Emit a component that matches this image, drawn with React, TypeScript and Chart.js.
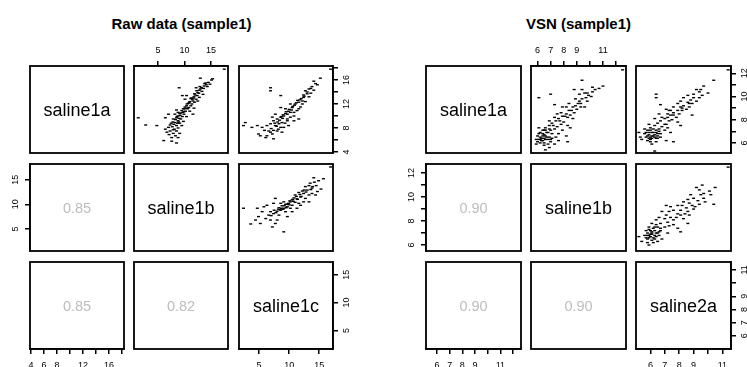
import React, { useEffect, useRef } from 'react';
import { Chart, registerables } from 'chart.js';

Chart.register(...registerables);

// ---------------- data ----------------
const rawVars = ['saline1a', 'saline1b', 'saline1c'];
const vsnVars = ['saline1a', 'saline1b', 'saline2a'];
// lower panels: (row2,col1), (row3,col1), (row3,col2)
const rawCors = [0.85, 0.85, 0.82];
const vsnCors = [0.9, 0.9, 0.9];

const rawRanges = [[3.83, 18.33], [0.5, 18.2], [1.65, 17.3]];
const vsnRanges = [[5.13, 12.63], [5.5, 12.76], [5.0, 11.6]];

const rawTicks = [[4, 6, 8, 10, 12, 14, 16, 18], [5, 10, 15], [5, 10, 15]];
const rawLabelsH = [['4', '6', '8', '', '12', '', '16', ''], ['5', '10', '15'], ['5', '10', '15']];
const rawLabelsV = [['4', '', '8', '', '12', '', '16', ''], ['5', '10', '15'], ['5', '10', '15']];
const vsnTicks = [[6, 7, 8, 9, 10, 11, 12], [6, 7, 8, 9, 10, 11, 12], [6, 7, 8, 9, 10, 11]];
const vsnLabelsH = [['6', '7', '8', '9', '', '11', ''], ['6', '7', '8', '9', '', '11', ''], ['6', '7', '8', '9', '', '11']];
const vsnLabelsV = [['6', '', '8', '', '10', '', '12'], ['6', '', '8', '', '10', '', '12'], ['6', '7', '8', '9', '', '11']];

// Raw: x = saline1b, y = saline1a
const rawS1bS1a: number[][] = [
  [17.5,17.8],[13.0,16.3],[15.1,16.0],[14.5,15.6],[14.8,15.3],[14.1,15.2],[13.7,15.0],[14.3,14.9],[13.2,14.7],[12.8,14.3],
  [12.3,14.2],[13.3,14.1],[12.5,13.9],[11.9,13.7],[12.4,13.4],[13.5,13.6],[11.8,13.2],[12.8,13.1],[11.3,13.0],[12.2,12.8],
  [11.6,12.5],[12.5,12.5],[11.0,12.4],[11.9,12.3],[10.7,12.1],[11.4,12.0],[10.4,11.7],[11.2,11.7],[10.1,11.5],[10.8,11.4],
  [11.8,11.3],[9.8,11.2],[10.6,11.2],[9.5,10.9],[10.2,10.8],[11.0,10.8],[9.1,10.4],[9.9,10.3],[11.6,10.3],[8.8,10.0],
  [9.6,9.9],[10.4,9.9],[8.5,9.7],[9.3,9.5],[7.9,9.5],[8.8,9.2],[9.8,9.1],[8.2,8.9],[9.1,8.8],[7.5,8.8],
  [8.5,8.4],[9.5,8.4],[7.7,8.2],[7.0,8.1],[8.8,8.0],[8.1,7.8],[6.4,7.8],[7.3,7.5],[8.5,7.5],[6.7,7.3],
  [7.9,7.1],[9.1,7.1],[7.1,6.9],[8.3,6.7],[7.6,6.4],[8.8,6.4],[6.1,5.9],[7.6,5.8],[8.5,5.5],[1.3,9.7],
  [2.7,8.5],[4.8,8.4],[9.0,14.7],[9.6,13.4],[8.5,11.0],[8.8,10.6],[10.1,12.8],[6.4,9.7],[7.0,10.3],[8.2,10.3],
  [10.4,13.4],[13.8,15.4],[15.3,16.2],[12.2,14.7],[12.0,13.5],[11.5,12.8],[10.9,12.2],[10.0,11.2],[9.3,10.5],[13.0,14.5],
  [12.7,13.8],[14.0,15.5],[9.0,9.6],[8.0,8.6],[11.2,12.9],[10.5,12.0],[10.3,11.3],[9.7,10.6],[9.2,10.1],[8.6,9.9],
  [8.3,9.4],[7.8,9.0],[8.9,9.0],[9.9,10.7],[12.9,14.9],[13.6,14.6],[11.7,13.0],[7.3,8.5],[7.9,7.7],[8.7,8.8],
];
// Raw: x = saline1c, y = saline1a
const rawS1cS1a: number[][] = [
  [16.9,17.8],[6.9,14.7],[6.9,14.2],[8.6,13.4],[14.1,15.8],[15.2,16.3],[14.7,15.2],[13.8,14.9],[13.3,14.5],[14.1,14.3],
  [12.7,14.2],[13.0,13.7],[12.4,13.1],[12.2,12.5],[11.6,12.3],[11.0,12.0],[11.9,11.5],[10.5,11.4],[11.3,10.9],[10.2,10.6],
  [9.7,10.3],[9.1,10.0],[10.8,10.0],[8.6,9.8],[8.0,9.5],[9.7,9.5],[7.4,9.2],[8.8,8.9],[8.3,8.7],[6.9,8.7],
  [7.7,8.4],[6.3,8.4],[9.1,8.1],[5.5,8.1],[4.7,8.4],[2.4,8.4],[2.7,8.9],[3.8,8.1],[8.0,7.5],[6.9,7.3],
  [7.2,7.0],[6.3,6.7],[5.2,6.7],[4.9,7.0],[7.4,6.2],[6.1,6.4],[6.6,7.5],[8.8,7.3],[9.7,9.2],[10.2,9.8],
  [10.8,10.6],[11.6,11.2],[12.2,12.0],[12.7,12.4],[13.3,13.2],[13.6,13.8],[12.4,13.5],[10.2,12.0],[9.4,11.2],[8.6,11.4],
  [7.7,10.3],[7.2,9.8],[9.9,8.4],[10.8,9.2],[11.6,9.5],[12.0,12.9],[11.4,12.6],[10.9,11.8],[10.4,11.0],[9.9,10.8],
  [9.4,10.4],[8.9,9.6],[8.4,9.3],[13.0,14.0],[14.4,15.4],[7.9,8.3],[7.0,7.9],[9.3,8.8],[8.2,7.8],[5.9,7.6],
  [12.5,13.3],[11.8,12.7],[11.2,12.2],[10.6,11.6],[10.0,11.1],[9.5,10.7],[9.0,10.2],[8.7,9.9],[8.1,9.0],[7.6,8.8],
  [13.6,14.6],[7.4,7.6],[8.6,8.1],
];
// Raw: x = saline1c, y = saline1b
const rawS1cS1b: number[][] = [
  [16.9,17.6],[14.1,15.4],[15.7,15.2],[14.9,14.8],[14.2,14.5],[13.5,14.3],[13.3,13.8],[14.5,13.8],[12.7,13.6],[13.8,13.3],
  [13.0,12.9],[12.2,12.7],[15.3,13.1],[12.4,12.2],[11.6,12.4],[11.0,11.9],[11.9,11.5],[10.8,11.3],[11.3,11.1],[12.7,11.2],
  [10.5,10.9],[10.2,10.5],[11.0,10.4],[9.9,10.2],[9.4,10.0],[10.5,9.8],[9.7,9.5],[8.8,9.7],[8.3,9.3],[9.1,9.2],
  [7.7,11.2],[7.4,10.2],[6.3,9.8],[5.8,9.5],[8.6,8.8],[8.0,8.6],[6.9,8.5],[9.4,8.5],[10.2,9.2],[7.4,8.1],
  [6.6,7.8],[8.3,7.8],[5.5,8.5],[4.7,9.2],[4.9,7.5],[4.4,6.8],[6.1,7.1],[6.9,6.8],[8.0,6.8],[7.7,6.1],
  [5.2,6.1],[3.6,6.0],[2.4,9.2],[7.2,5.4],[9.1,4.4],[9.7,7.5],[10.5,8.5],[11.3,9.2],[11.9,9.8],[12.4,10.5],
  [13.3,11.9],[13.8,12.2],[14.7,12.6],[14.4,11.9],[13.3,10.5],[11.6,10.2],[9.1,10.5],[8.6,10.2],[10.0,9.9],[10.7,10.6],
  [11.4,11.0],[12.0,11.6],[9.0,9.0],[8.5,8.9],[7.8,8.3],[9.5,9.3],[12.8,12.5],[13.6,13.0],[11.8,12.0],[11.2,11.6],
  [10.6,11.0],[10.1,10.7],[9.6,10.0],[9.2,9.7],[8.7,9.2],[8.2,9.0],[7.5,8.8],[12.5,12.9],[13.9,13.6],[7.0,7.7],
];
// VSN: x = saline1b, y = saline1a
const vsnS1bS1a: number[][] = [
  [12.5,12.3],[6.1,9.9],[7.0,10.2],[9.4,11.4],[7.3,9.3],[8.3,6.1],[6.6,5.4],[11.0,10.9],[10.7,10.7],[10.4,10.6],
  [10.2,10.4],[9.9,10.1],[9.7,9.9],[10.1,10.0],[9.4,9.8],[9.8,9.6],[9.2,9.6],[8.9,9.2],[8.7,9.1],[9.3,9.1],
  [9.0,8.9],[9.6,9.1],[8.4,8.8],[8.8,8.6],[8.2,8.5],[8.5,8.4],[7.9,8.3],[8.3,8.2],[7.6,8.1],[8.7,8.1],
  [7.4,7.9],[8.0,7.8],[7.1,7.7],[7.8,7.6],[6.9,7.5],[7.5,7.4],[6.6,7.3],[7.3,7.2],[6.4,7.1],[7.0,7.1],
  [6.8,6.9],[6.1,6.8],[6.5,6.7],[7.1,6.8],[6.2,6.5],[6.9,6.5],[5.9,6.3],[6.6,6.3],[7.4,6.5],[6.4,6.2],
  [6.0,6.1],[7.0,6.1],[6.8,5.9],[6.2,6.0],[6.5,5.8],[7.9,7.1],[8.3,7.5],[8.5,7.3],[8.8,10.6],[9.4,10.6],
  [9.2,10.2],[8.2,9.1],[7.8,8.6],[7.9,9.1],[7.5,8.5],[7.3,8.2],[6.9,7.9],[8.9,9.8],[8.4,9.4],[9.3,9.4],
  [9.8,10.3],[10.2,10.8],[9.6,10.3],[6.1,7.3],[7.6,6.8],[5.9,5.9],[6.9,5.6],[7.3,5.9],[7.6,6.2],[8.2,6.6],
  [6.4,6.6],[6.6,6.6],[6.8,6.3],[6.5,6.0],[6.1,6.3],[7.0,6.3],[7.1,6.4],[6.2,6.9],[6.6,7.1],[6.9,7.2],
  [6.5,7.1],[6.3,6.2],[6.3,6.4],[6.7,6.5],[6.0,6.6],[6.4,6.8],[6.7,6.9],[6.2,6.3],[6.5,6.4],[7.2,7.5],
  [7.7,7.9],[8.1,8.3],[8.6,8.8],[9.1,9.4],
];
// VSN: x = saline2a, y = saline1a
const vsnS2aS1a: number[][] = [
  [11.4,12.3],[6.4,10.2],[6.4,9.9],[6.7,9.3],[10.4,11.4],[9.7,10.9],[9.2,10.6],[9.5,10.6],[10.0,10.3],[9.6,10.1],
  [9.4,9.9],[9.0,9.9],[8.8,9.7],[9.2,9.6],[8.6,9.5],[8.9,9.4],[8.3,9.2],[8.7,9.1],[8.1,9.1],[8.5,8.9],
  [7.9,8.8],[7.1,8.9],[7.3,8.8],[8.2,8.8],[7.6,8.6],[8.0,8.5],[7.4,8.4],[8.9,8.4],[7.8,8.2],[7.2,8.2],
  [7.0,8.1],[7.5,8.0],[6.7,7.9],[7.3,7.9],[6.5,7.7],[7.1,7.6],[6.3,7.5],[6.8,7.4],[8.1,7.5],[6.0,7.3],
  [6.6,7.2],[5.8,7.1],[6.4,7.1],[6.1,6.9],[5.6,6.8],[5.9,6.7],[6.5,6.8],[5.7,6.5],[6.3,6.5],[5.3,6.5],
  [6.0,6.3],[6.7,6.5],[5.8,6.2],[5.4,6.3],[6.4,6.1],[6.1,5.9],[6.0,6.1],[6.3,5.3],[7.6,6.1],[7.1,6.2],
  [7.4,6.9],[7.0,7.1],[7.2,7.3],[9.0,10.2],[9.4,10.4],[8.3,9.9],[8.6,10.1],[7.9,9.4],[7.6,9.1],[7.4,8.8],
  [8.1,9.6],[7.2,8.5],[6.8,8.2],[6.6,8.5],[6.3,8.1],[5.9,7.6],[5.6,7.2],[7.9,7.8],[5.2,6.9],[6.5,6.4],
  [5.8,6.6],[6.1,6.4],[6.3,6.7],[6.0,7.1],[6.2,6.6],[5.9,6.4],[6.4,6.9],[6.6,7.0],[6.2,7.2],[5.7,6.9],
  [6.1,6.6],[6.4,6.4],[5.9,6.9],[6.2,6.9],[6.5,6.6],[6.7,6.8],[6.0,6.5],[7.0,7.6],[7.6,8.4],[8.2,9.0],
  [8.7,9.4],
];
// VSN: x = saline2a, y = saline1b
const vsnS2aS1b: number[][] = [
  [11.4,12.5],[9.6,11.0],[10.5,10.8],[9.2,10.8],[10.1,10.5],[9.4,10.6],[9.7,10.3],[8.8,10.2],[9.5,10.2],[9.0,9.9],
  [8.6,9.8],[9.3,9.7],[9.8,9.6],[10.4,9.4],[8.3,9.6],[8.7,9.5],[8.2,9.3],[8.9,9.3],[7.9,9.3],[8.5,9.1],
  [7.4,9.2],[7.1,9.3],[7.6,8.9],[8.1,8.9],[7.3,8.8],[6.8,8.8],[7.9,8.6],[7.1,8.5],[6.6,8.3],[7.4,8.3],
  [8.3,8.2],[8.6,7.8],[7.0,8.2],[6.4,8.1],[7.2,7.9],[6.7,7.8],[6.1,7.8],[7.6,7.7],[7.9,7.4],[8.1,7.1],
  [5.9,7.5],[6.5,7.5],[7.0,7.5],[5.7,7.2],[6.3,7.2],[6.7,7.2],[5.8,7.0],[6.1,7.0],[6.5,7.0],[5.6,6.8],
  [6.0,6.7],[6.4,6.7],[5.8,6.5],[6.1,6.4],[6.5,6.3],[5.2,6.7],[5.4,6.3],[5.9,6.0],[6.8,6.5],[7.2,7.0],
  [7.6,8.1],[8.1,8.5],[8.6,8.8],[9.0,9.0],[9.4,9.4],[9.7,9.9],[10.2,10.2],[8.7,8.5],[6.3,7.5],[6.6,7.1],
  [5.9,6.8],[5.7,6.6],[6.3,6.5],[6.0,7.2],[6.4,7.7],[6.0,6.9],[6.2,6.6],[5.9,7.3],[6.2,7.4],[6.6,6.8],
  [5.8,6.2],[6.1,6.9],[6.3,6.8],[5.9,6.6],[6.1,7.1],[6.4,7.0],[6.2,6.2],[5.8,6.8],[6.7,7.4],[7.3,7.6],
  [7.8,8.3],[8.4,8.6],[9.1,9.2],
];

// ---------------- layout / style ----------------
const FONT = "'Liberation Sans', Arial, Helvetica, sans-serif";
const M = 22;
const ROW_TOPS = [66, 164, 262];
const PANEL_H = 87;
const RAW_COLS = [30, 134, 239];
const RAW_W = 94;
const VSN_COLS = [426, 531, 636];
const VSN_W = 95;

type AxisSpec = { pos: 'top' | 'bottom' | 'left' | 'right'; ticks: number[]; labels: string[] };
type PanelSpec = {
  key: string;
  left: number; top: number; w: number; h: number;
  xr: number[]; yr: number[];
  points: number[][] | null;
  text: string | null; textColor: string; textSize: number;
  xAxis: AxisSpec | null; yAxis: AxisSpec | null;
};

const panelPlugin = {
  id: 'panelBox',
  afterDraw(chart: any, _args: any, opts: any) {
    const { ctx, chartArea: a } = chart;
    ctx.save();
    ctx.strokeStyle = '#000';
    ctx.lineWidth = 1.8;
    ctx.strokeRect(a.left, a.top, a.right - a.left, a.bottom - a.top);
    if (opts && opts.text) {
      ctx.font = `${opts.size}px ${FONT}`;
      ctx.fillStyle = opts.color;
      ctx.textAlign = 'center';
      ctx.textBaseline = 'alphabetic';
      const cx = (a.left + a.right) / 2;
      const cy = (a.top + a.bottom) / 2;
      ctx.fillText(opts.text, cx, cy + (opts.size * 0.716) / 2);
    }
    ctx.restore();
  },
};

function makeScale(ax: AxisSpec | null, range: number[], horizontal: boolean) {
  return {
    type: 'linear',
    min: range[0],
    max: range[1],
    bounds: 'data',
    position: ax ? ax.pos : horizontal ? 'bottom' : 'left',
    display: !!ax,
    afterBuildTicks: (s: any) => {
      if (ax) s.ticks = ax.ticks.map((v) => ({ value: v }));
      s.min = range[0];
      s.max = range[1];
    },
    afterFit: (s: any) => {
      if (!ax) return;
      if (horizontal) s.height = M;
      else s.width = M;
    },
    grid: {
      display: true,
      drawOnChartArea: false,
      drawTicks: true,
      tickLength: 5,
      color: '#000',
      lineWidth: 1.5,
    },
    border: { display: true, color: '#000', width: 1.5 },
    ticks: {
      autoSkip: false,
      color: '#000',
      font: { family: FONT, size: 9 },
      padding: horizontal ? (ax && ax.pos === 'bottom' ? 6.5 : 4.6) : 4,
      minRotation: horizontal ? 0 : 90,
      maxRotation: horizontal ? 0 : 90,
      crossAlign: horizontal ? 'near' : 'center',
      callback: (_v: any, i: number) => (ax ? ax.labels[i] : ''),
    },
  };
}

function Panel({ spec }: { spec: PanelSpec }) {
  const ref = useRef<HTMLCanvasElement>(null);
  useEffect(() => {
    if (!ref.current) return;
    const pad = {
      left: spec.yAxis && spec.yAxis.pos === 'left' ? 0 : M,
      right: spec.yAxis && spec.yAxis.pos === 'right' ? 0 : M,
      top: spec.xAxis && spec.xAxis.pos === 'top' ? 0 : M,
      bottom: spec.xAxis && spec.xAxis.pos === 'bottom' ? 0 : M,
    };
    const datasets = spec.points
      ? [
          {
            data: spec.points.map(([x, y]) => ({ x, y })),
            pointStyle: 'line',
            pointRadius: 1.5,
            pointBorderWidth: 1.4,
            borderColor: '#000',
            backgroundColor: '#000',
            pointHoverRadius: 0,
          },
        ]
      : [];
    const chart = new Chart(ref.current, {
      type: 'scatter',
      data: { datasets } as any,
      options: {
        animation: false,
        responsive: false,
        maintainAspectRatio: false,
        events: [],
        layout: { padding: pad },
        scales: {
          x: makeScale(spec.xAxis, spec.xr, true),
          y: makeScale(spec.yAxis, spec.yr, false),
        } as any,
        plugins: {
          legend: { display: false },
          tooltip: { enabled: false },
          panelBox: { text: spec.text, color: spec.textColor, size: spec.textSize },
        } as any,
      },
      plugins: [panelPlugin],
    });
    return () => chart.destroy();
  }, [spec]);
  const W = spec.w + 2 * M;
  const H = spec.h + 2 * M;
  return (
    <canvas
      ref={ref}
      width={W}
      height={H}
      style={{ position: 'absolute', left: spec.left - M, top: spec.top - M, width: W, height: H }}
    />
  );
}

function buildPairs(
  prefix: string,
  cols: number[],
  w: number,
  vars: string[],
  cors: number[],
  ranges: number[][],
  ticks: number[][],
  labelsH: string[][],
  labelsV: string[][],
  upper: Record<string, number[][]>
): PanelSpec[] {
  const out: PanelSpec[] = [];
  const corIndex: Record<string, number> = { '10': 0, '20': 1, '21': 2 };
  for (let i = 0; i < 3; i++) {
    for (let j = 0; j < 3; j++) {
      let xAxis: AxisSpec | null = null;
      let yAxis: AxisSpec | null = null;
      if (i === 0 && j % 2 === 1) xAxis = { pos: 'top', ticks: ticks[j], labels: labelsH[j] };
      if (i === 2 && j % 2 === 0) xAxis = { pos: 'bottom', ticks: ticks[j], labels: labelsH[j] };
      if (j === 0 && i % 2 === 1) yAxis = { pos: 'left', ticks: ticks[i], labels: labelsV[i] };
      if (j === 2 && i % 2 === 0) yAxis = { pos: 'right', ticks: ticks[i], labels: labelsV[i] };
      let text: string | null = null;
      let textColor = '#000';
      let textSize = 18;
      let points: number[][] | null = null;
      if (i === j) {
        text = vars[i];
      } else if (i > j) {
        text = cors[corIndex[`${i}${j}`]].toFixed(2);
        textColor = '#bdbdbd';
        textSize = 14.5;
      } else {
        points = upper[`${i}${j}`];
      }
      out.push({
        key: `${prefix}-${i}-${j}`,
        left: cols[j],
        top: ROW_TOPS[i],
        w,
        h: PANEL_H,
        xr: ranges[j],
        yr: ranges[i],
        points,
        text,
        textColor,
        textSize,
        xAxis,
        yAxis,
      });
    }
  }
  return out;
}

const rawPanels = buildPairs('raw', RAW_COLS, RAW_W, rawVars, rawCors, rawRanges, rawTicks, rawLabelsH, rawLabelsV, {
  '01': rawS1bS1a,
  '02': rawS1cS1a,
  '12': rawS1cS1b,
});
const vsnPanels = buildPairs('vsn', VSN_COLS, VSN_W, vsnVars, vsnCors, vsnRanges, vsnTicks, vsnLabelsH, vsnLabelsV, {
  '01': vsnS1bS1a,
  '02': vsnS2aS1a,
  '12': vsnS2aS1b,
});

const titleStyle = (cx: number): React.CSSProperties => ({
  position: 'absolute',
  left: cx - 150,
  top: 16,
  width: 300,
  textAlign: 'center',
  font: `bold 15px ${FONT}`,
  lineHeight: '15px',
  color: '#000',
  whiteSpace: 'nowrap',
});

export default function App() {
  return (
    <div
      style={{
        position: 'fixed',
        left: 0,
        top: 0,
        width: 747,
        height: 367,
        overflow: 'hidden',
        background: '#fff',
      }}
    >
      <div style={titleStyle(181.5)}>Raw data (sample1)</div>
      <div style={titleStyle(578.5)}>VSN (sample1)</div>
      {rawPanels.map((p) => (
        <Panel key={p.key} spec={p} />
      ))}
      {vsnPanels.map((p) => (
        <Panel key={p.key} spec={p} />
      ))}
    </div>
  );
}
